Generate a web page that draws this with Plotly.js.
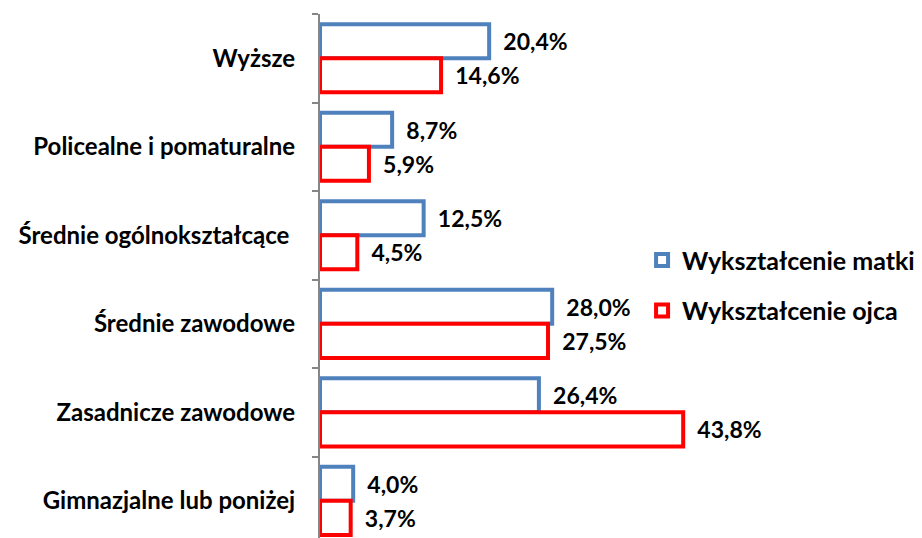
<!DOCTYPE html>
<html><head><meta charset="utf-8">
<script src="https://cdn.plot.ly/plotly-3.0.1.min.js"></script>
<style>html,body{margin:0;padding:0;background:#fff}</style>
</head><body><div id="chart" style="width:922px;height:538px"></div>
<script>
const categories = ["Wyższe","Policealne i pomaturalne","Średnie ogólnokształcące ","Średnie zawodowe","Zasadnicze zawodowe","Gimnazjalne lub poniżej"];
const seriesNames = ["Wykształcenie matki","Wykształcenie ojca"];
const matki = [20.4, 8.7, 12.5, 28.0, 26.4, 4.0];
const ojca = [14.6, 5.9, 4.5, 27.5, 43.8, 3.7];
const colors = ["#4F81BD","#FF0000"];

const FONT = "Lato, 'Open Sans', sans-serif";
function mk(vals, name, color, grp){
  return {
    type:"bar", orientation:"h", x: vals, y: categories, name: name,
    legendgroup: grp,
    marker:{color:"#FFFFFF", line:{color:color, width:4}},
    texttemplate:"\u00A0\u00A0%{x:.1f}%", textposition:"outside", cliponaxis:false,
    textfont:{family:FONT, size:23, color:"#000", weight:"bold"},
    hoverinfo:"skip"
  };
}
const data = [mk(matki, seriesNames[0], colors[0], "a"), mk(ojca, seriesNames[1], colors[1], "b")];
const layout = {
  width:922, height:538,
  margin:{l:320, r:0, t:14, b:0, pad:0},
  separators:", ",
  barmode:"group", bargap:0.23, bargroupgap:0,
  paper_bgcolor:"#fff", plot_bgcolor:"#fff",
  font:{family:FONT, size:24, color:"#000", weight:"bold"},
  xaxis:{range:[0,72.6], showgrid:false, zeroline:false, showline:false, showticklabels:false, ticks:""},
  yaxis:{type:"category", categoryarray:categories, range:[5.42,-0.5],
    showline:true, linecolor:"#868686", linewidth:2,
    ticks:"outside", tickson:"boundaries", ticklen:6, tickcolor:"#868686", tickwidth:2,
    ticklabelstandoff:18, showgrid:false, zeroline:false,
    tickfont:{family:FONT, size:24, color:"#000", weight:"bold"}},
  showlegend:true,
  legend:{x:0.535, xanchor:"left", y:0.574, yanchor:"top", tracegroupgap:15,
    font:{family:FONT, size:25, color:"#000", weight:"bold"}, itemwidth:30, bgcolor:"rgba(0,0,0,0)"}
};
Plotly.newPlot("chart", data, layout, {displayModeBar:false, staticPlot:true});
</script></body></html>
